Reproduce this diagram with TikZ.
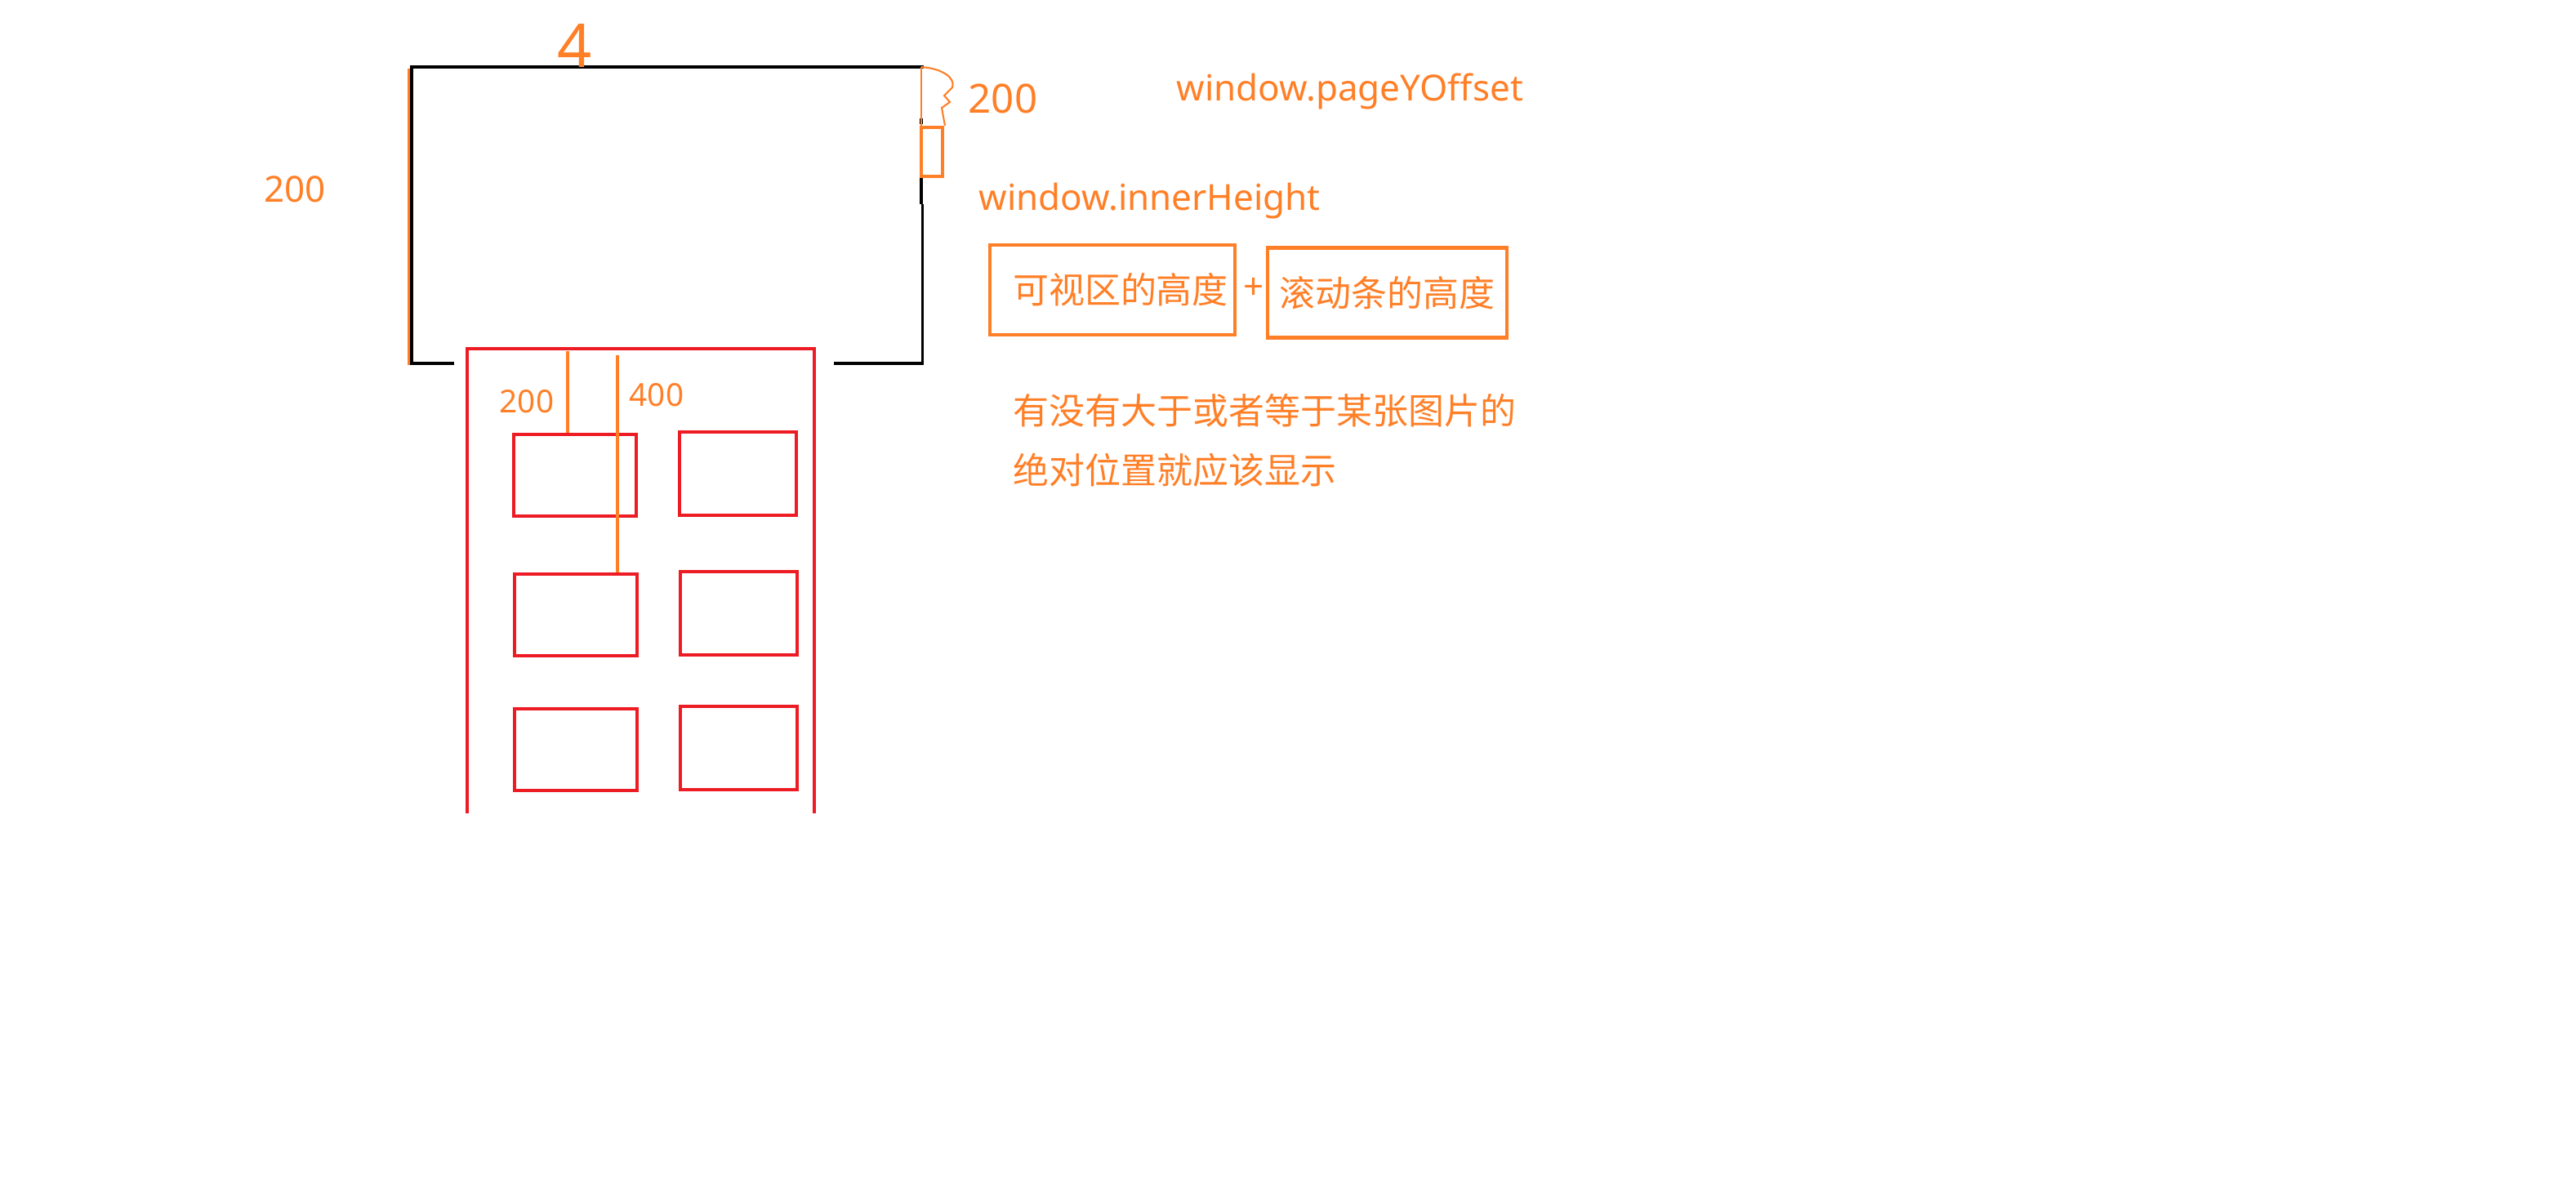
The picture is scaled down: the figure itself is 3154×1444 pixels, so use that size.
\documentclass[tikz,border=0pt]{standalone}
\usepackage{fontspec}
\setmainfont{Noto Sans}
\newfontfamily\cjk{Noto Sans CJK SC}
\usepackage{tikz}
\definecolor{orange}{RGB}{255,127,39}
\definecolor{red}{RGB}{237,28,36}

\begin{document}
\begin{tikzpicture}[x=0.01cm, y=-0.01cm]
	\tikzstyle{frame}=[draw=black, line width=1.1pt]
	\tikzstyle{pic}=[draw=red, line width=1.3pt, minimum width=1.5cm, minimum height=1cm, inner sep=0pt]
	\tikzstyle{picr}=[pic, minimum width=1.43cm, minimum height=1.02cm]
	\tikzstyle{obox}=[draw=orange, line width=1.25pt, minimum height=1.1cm, inner sep=0pt, text=orange, font=\cjk\fontsize{12.5}{15}\selectfont]
	\tikzstyle{lbl}=[text=orange, inner sep=0pt, font=\fontsize{12.5}{15}\selectfont]
	\tikzstyle{cjklbl}=[text=orange, inner sep=0pt, font=\cjk\fontsize{12.5}{15}\selectfont]
	\tikzstyle{hand}=[text=orange, inner sep=0pt, font=\fontsize{11}{13}\selectfont]
	\tikzstyle{oline}=[draw=orange, line width=0.95pt]

	\useasboundingbox (0,0) rectangle (3154,1444);

	% browser window
	\draw[frame] (556,445) -- (503.8,445) -- (503.8,82) -- (1131,82);
	\draw[frame] (1021,445) -- (1129.5,445) -- (1129.5,250);
	\draw[black, line width=1pt] (1127.8,250) -- (1127.8,218);
	\draw[black, line width=1pt] (1127.8,152) -- (1127.8,145);
	\draw[orange, line width=1pt] (500.3,84) -- (500.3,447);

	\draw node at (1141,186) [draw=orange, line width=1.4pt, minimum width=0.26cm, minimum height=0.6cm, inner sep=0pt] (bar) {};
	\coordinate (wtr) at (1127.8,82);
	\draw[orange, line width=0.45pt] (wtr) -- (wtr |- bar.north);
	\draw[orange, line width=0.6pt] (wtr) .. controls (1155,84) and (1170,96) .. (1166,107) -- (1156,117) -- (1163,125) -- (1153,132) -- (1155,143) -- (1157,154);

	\draw node at (704,56) [hand, font=\fontsize{21}{24}\selectfont] (four) {4};
	\draw node at (1228,121) [hand, font=\fontsize{14}{16}\selectfont] (off) {200};
	\draw node at (323,247) [lbl, anchor=base west] (h200) {200};

	\draw node at (1440,123) [lbl, anchor=base west] (yoff) {window.pageYOffset};
	\draw node at (1198,257) [lbl, anchor=base west] (inner) {window.innerHeight};

	\draw node at (1362,355) [obox, minimum width=3.0cm] (vis) {\hspace{0.2cm}可视区的高度};
	\draw node at (1535,353) [lbl] (plus) {+};
	\draw node at (1698.5,358.5) [obox, minimum width=2.93cm] (scr) {滚动条的高度};

	\draw node at (1240,519) [cjklbl, anchor=base west] (rule1) {有没有大于或者等于某张图片的};
	\draw node at (1240,592) [cjklbl, anchor=base west] (rule2) {绝对位置就应该显示};

	% page with images
	\draw[red, line width=1.3pt] (572,996) -- (572,427) -- (997,427) -- (997,996);

	\draw node at (704,582) [pic] (p11) {};
	\draw node at (903.5,580) [picr] (p12) {};
	\draw node at (705,753) [pic] (p21) {};
	\draw node at (904.5,751) [picr] (p22) {};
	\draw node at (705,918) [pic] (p31) {};
	\draw node at (904.5,916) [picr] (p32) {};

	\coordinate (t1) at (695,430);
	\coordinate (t2) at (756,435);
	\draw[oline] (t1) -- (t1 |- p11.north);
	\draw[oline] (t2) -- (t2 |- p21.north);

	\draw node at (645,492) [hand] (top1) {200};
	\draw node at (804,484) [hand] (top2) {400};
\end{tikzpicture}
\end{document}
